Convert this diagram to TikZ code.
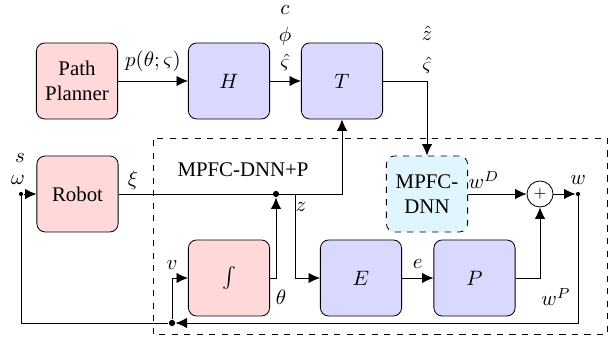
\documentclass[tikz,border=0pt]{standalone}
\usepackage{fontspec}
\setmainfont{Liberation Serif}
\usepackage{xcolor}
\usepackage{tikz}
\usetikzlibrary{positioning, shapes, arrows, calc, arrows.meta}

\tikzset{
  blk/.style={draw, rounded corners=4pt, minimum width=39pt, minimum height=36.5pt, align=center, inner sep=1pt},
  pinkblk/.style={blk, fill=red!15},
  blueblk/.style={blk, fill=blue!15},
  dnnblk/.style={blk, dashed, fill=cyan!12},
  sumnode/.style={draw, circle, minimum size=12.5pt, inner sep=0pt},
  dot/.style={circle, fill, inner sep=0pt, minimum size=3pt},
  smalldot/.style={circle, fill, inner sep=0pt, minimum size=2pt},
  arr/.style={-{Latex[length=5.5pt,width=5pt]}},
}

\begin{document}
\begin{tikzpicture}[x=0.48pt, y=0.48pt]
  \useasboundingbox (0,0) rectangle (616,343);

  % controller area
  \draw[dashed] (153,9) rectangle (607,205);
  \node (title) at (243,173) {MPFC-DNN+P};

  % blocks
  \node[pinkblk] (plan) at (77,262) {Path\\Planner};
  \node[blueblk] (H) at (229,262) {$H$};
  \node[blueblk] (T) at (342,262) {$T$};
  \node[pinkblk] (robot) at (77.5,149) {Robot};
  \node[dnnblk] (dnn) at (427,149) {MPFC-\\DNN};
  \node[pinkblk] (int) at (229,65) {$\int$};
  \node[blueblk] (E) at (361,65) {$E$};
  \node[blueblk] (P) at (474.5,65) {$P$};
  \node[sumnode] (sum) at (540,149) {\scriptsize $+$};

  % branch points
  \node[smalldot] (win) at (21,149) {};
  \node[smalldot] (wout) at (578,149) {};
  \node[dot] (jtheta) at (276,149) {};
  \coordinate (jz) at (295,149);
  \node[dot] (jv) at (172,20) {};

  % upper path
  \draw[arr] (plan) -- (H) node[midway, above=1pt] {$p(\theta;\varsigma)$};
  \draw[arr] (H) -- (T);
  \node[align=center, inner sep=1pt] (hout) at (285,305) {$c$\\[1pt]$\phi$\\[1pt]$\hat{\varsigma}$};
  \draw[arr] (T.east) -| (dnn.north);
  \node[align=center, inner sep=1pt] (tout) at (427,293) {$\hat{z}$\\[3pt]$\hat{\varsigma}$};

  % robot and state
  \draw[arr] (win) -- (robot);
  \draw[arr] (robot.east) -| (T.south);
  \draw[arr] (jz) |- (E.west);
  \draw[arr] (int.east) -| (jtheta);
  \draw[arr] (E) -- (P) node[midway, above=1pt] {$e$};
  \draw[arr] (P.east) -| (sum.south);
  \draw[arr] (dnn) -- (sum);
  \draw[arr] (sum) -- (wout);

  % feedback
  \draw[arr] (wout) |- (jv);
  \draw (jv) -| (win);
  \draw[arr] (jv) |- (int.west);

  % labels
  \node (ls) at (20,185) {$s$};
  \node (lomega) at (18,163) {$\omega$};
  \node (lxi) at (133,163) {$\xi$};
  \node (lz) at (301,136) {$z$};
  \node (lv) at (172,78) {$v$};
  \node (ltheta) at (281,46) {$\theta$};
  \node (lwp) at (556,46) {$w^P$};
  \node (lwd) at (484,163) {$w^D$};
  \node (lw) at (578,163) {$w$};
\end{tikzpicture}
\end{document}
